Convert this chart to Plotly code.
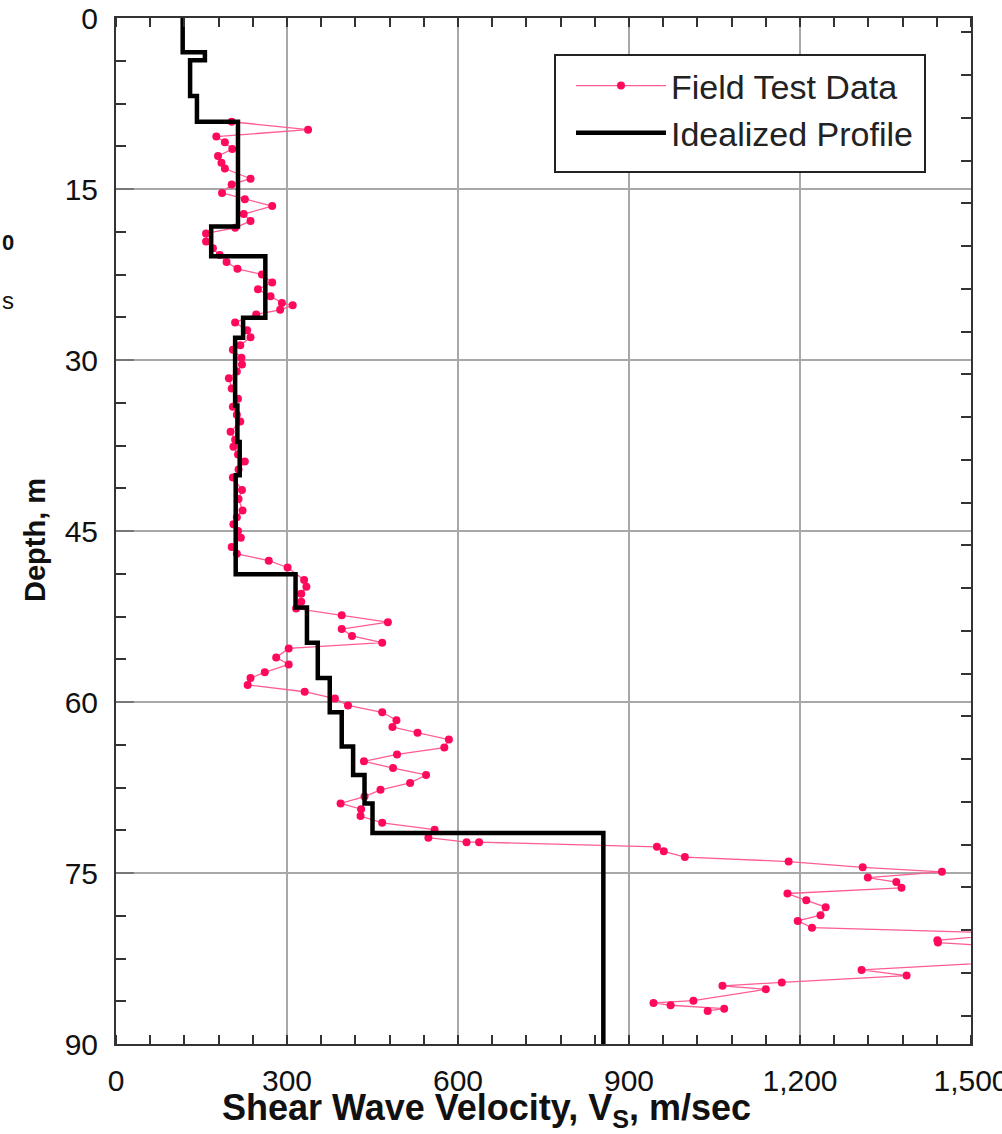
import plotly.graph_objects as go

# ---- Field test data (depth m, Vs m/s) ----
field_depth = [9.1, 9.8, 10.4, 10.9, 11.5, 12.1, 12.7, 13.2, 14.1, 14.6,
               15.35, 15.9, 16.5, 17.2, 17.8, 18.4, 18.9, 19.6, 20.2, 20.8,
               21.4, 22.0, 22.5, 23.2, 23.8, 24.4, 25.0, 25.2, 25.6, 26.0,
               26.7, 27.4, 28.0, 28.7, 29.1, 29.8, 30.4, 31.0, 31.6, 32.5,
               33.4, 34.1, 34.8, 35.4, 36.3, 37.0, 37.6, 38.3, 38.9, 39.6,
               40.3, 41.4, 42.2, 43.2, 43.8, 44.4, 45.0, 45.6, 46.4, 47.0,
               47.6, 48.2, 49.3, 49.9, 50.5, 51.2, 51.8, 52.4, 53.0, 53.6,
               54.2, 54.8, 55.3, 56.1, 56.7, 57.4, 57.9, 58.5, 59.1, 59.7,
               60.3, 60.9, 61.6, 62.2, 62.7, 63.3, 64.0, 64.6, 65.2, 65.8,
               66.4, 67.1, 67.7, 68.3, 68.9, 69.4, 70.0, 70.6, 71.2, 71.9,
               72.3, 72.3, 72.7, 73.1, 73.6, 74.0, 74.5, 74.9, 75.4, 75.8,
               76.3, 76.8, 77.4, 78.0, 78.7, 79.2, 79.8, 80.3, 80.9, 81.1,
               81.6, 82.8, 83.5, 84.0, 84.6, 84.9, 85.2, 86.2, 86.4, 86.6,
               86.9, 87.1]
field_vs = [203, 337, 176, 191, 204, 179, 185, 191, 236, 203,
            186, 226, 274, 224, 236, 209, 158, 158, 170, 182,
            194, 213, 256, 274, 249, 271, 291, 310, 288, 246,
            209, 230, 236, 218, 205, 220, 221, 212, 198, 203,
            214, 205, 212, 218, 201, 209, 206, 214, 226, 215,
            205, 221, 215, 222, 212, 206, 214, 219, 203, 212,
            268, 301, 330, 334, 325, 325, 316, 396, 477, 396,
            414, 467, 303, 281, 303, 261, 236, 231, 331, 384,
            407, 467, 492, 485, 529, 584, 576, 493, 435, 486,
            544, 516, 464, 436, 394, 430, 429, 467, 559, 548,
            615, 637, 949, 961, 998, 1180, 1310, 1449, 1319, 1369,
            1378, 1178, 1211, 1245, 1236, 1196, 1221, 1580, 1441, 1442,
            1600, 1560, 1308, 1387, 1168, 1064, 1140, 1013, 943, 973,
            1067, 1038]

# ---- Idealized profile: layer top depths and velocities ----
layer_top = [0, 3.0, 3.7, 6.85, 9.1, 18.3, 20.9, 26.3, 28.05, 34.0, 37.2,
             40.1, 48.8, 51.7, 54.8, 57.9, 60.9, 63.9, 66.4, 68.9, 71.5]
layer_vs = [117, 156, 130, 142, 214, 167, 262, 223, 209, 213, 217,
            210, 315, 335, 354, 375, 396, 416, 436, 450, 855]
profile_bottom = 90

x_ticks = [0, 300, 600, 900, 1200, 1500]
y_ticks = [0, 15, 30, 45, 60, 75, 90]
right_minor = [1.25 + 3.75 * k for k in range(24)]

FONT = "Liberation Sans, Arial, sans-serif"

# page body margin is set to 0 below, so figure pixels == page pixels
W, H = 1002, 1134
PL, PR, PT, PB = 116, 971, 18, 1044          # plot box in page pixels
L, T, R, B = PL, PT, W - PR, H - PB
PW, PH = W - L - R, H - T - B


def px(xp):
    return (xp - L) / PW


def py(yp):
    return (H - B - yp) / PH


fig = go.Figure()
fig.add_trace(go.Scatter(
    x=field_vs, y=field_depth, mode="lines+markers", name="Field Test Data",
    line=dict(color="#ff5c94", width=1.3),
    marker=dict(color="#ff0a5a", size=8),
))
fig.add_trace(go.Scatter(
    x=layer_vs + [layer_vs[-1]], y=layer_top + [profile_bottom],
    mode="lines", name="Idealized Profile", line_shape="vh",
    line=dict(color="black", width=4.5),
))
# invisible trace for offset right-side minor ticks
fig.add_trace(go.Scatter(x=[None], y=[None], yaxis="y2", showlegend=False,
                         hoverinfo="skip"))

fig.update_layout(
    width=W, height=H,
    margin=dict(l=L, r=R, t=T, b=B, autoexpand=False),
    paper_bgcolor="white", plot_bgcolor="white",
    font=dict(family=FONT, color="#111"),
    showlegend=True,
    legend=dict(
        x=px(571), y=py(57), xanchor="left", yanchor="top",
        bgcolor="rgba(0,0,0,0)", borderwidth=0,
        font=dict(size=34, family=FONT, color="#222"),
        itemwidth=90, tracegroupgap=0,
    ),
    shapes=[dict(type="rect", xref="paper", yref="paper",
                 x0=px(555), x1=px(925), y0=py(172), y1=py(55),
                 fillcolor="white", line=dict(color="#222", width=2),
                 layer="above")],
    xaxis=dict(
        range=[0, 1500], tickvals=x_ticks, tickformat=",",
        showgrid=True, gridcolor="#a8a8a8", gridwidth=1.5,
        zeroline=False, showline=True, linecolor="#333", linewidth=2,
        mirror="ticks", ticks="", automargin=False,
        ticklabeloverflow="allow", ticklabelstandoff=9,
        tickfont=dict(size=30, family=FONT, color="#111"),
        minor=dict(dtick=60, tick0=0, ticks="inside", ticklen=9,
                   tickcolor="#333", tickwidth=1.5, showgrid=False),
    ),
    yaxis=dict(
        range=[90, 0], tickvals=y_ticks,
        showgrid=True, gridcolor="#a8a8a8", gridwidth=1.5,
        zeroline=False, showline=True, linecolor="#333", linewidth=2,
        mirror=True, ticks="inside", ticklen=18, tickcolor="#777", tickwidth=1.5,
        automargin=False, ticklabeloverflow="allow", ticklabelstandoff=10,
        tickfont=dict(size=30, family=FONT, color="#111"),
        minor=dict(dtick=3.75, tick0=0, ticks="inside", ticklen=10,
                   tickcolor="#333", tickwidth=1.5, showgrid=False),
    ),
    yaxis2=dict(
        overlaying="y", side="right", range=[90, 0], tickvals=right_minor,
        ticks="inside", ticklen=10, tickcolor="#333", tickwidth=1.5,
        showticklabels=False, showgrid=False, zeroline=False, showline=False,
        automargin=False,
    ),
    annotations=[
        dict(text="<b>Shear Wave Velocity, V<sub>S</sub>, m/sec</b>",
             xref="paper", yref="paper", x=px(486), y=py(1110),
             xanchor="center", yanchor="middle", showarrow=False,
             font=dict(size=36, family=FONT, color="#111")),
        dict(text="<b>Depth, m</b>", textangle=-90,
             xref="paper", yref="paper", x=px(35), y=py(540),
             xanchor="center", yanchor="middle", showarrow=False,
             font=dict(size=29, family=FONT, color="#111")),
        dict(text="<b>0</b>", xref="paper", yref="paper", x=px(16), y=py(242),
             xanchor="right", yanchor="middle", showarrow=False,
             font=dict(size=22, family=FONT, color="#111")),
        dict(text="s", xref="paper", yref="paper", x=px(0), y=py(300),
             xanchor="left", yanchor="middle", showarrow=False,
             font=dict(size=24, family=FONT, color="#111")),
    ],
)

fig.write_html("out.html",
               config={"displayModeBar": False},
               post_script="document.body.style.margin='0';")
